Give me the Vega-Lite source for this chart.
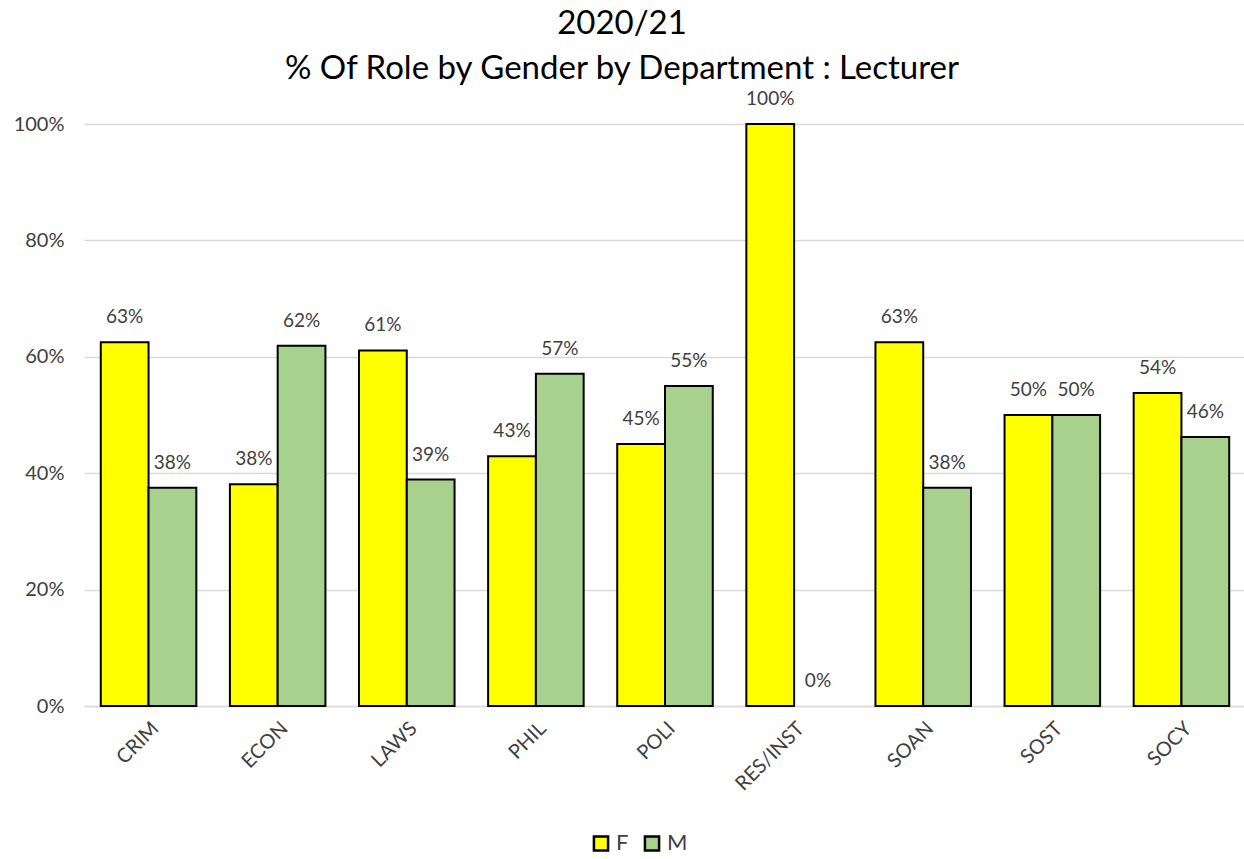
{
  "$schema": "https://vega.github.io/schema/vega-lite/v6.json",
  "width": 1162,
  "height": 582,
  "autosize": {"type": "none"},
  "padding": {"left": 84, "top": 124, "right": 0, "bottom": 153},
  "background": "white",
  "title": {
    "text": ["2020/21", "%  Of Role by Gender by Department : Lecturer"],
    "fontSize": 33,
    "font": "Lato",
    "fontWeight": "normal",
    "color": "#000000",
    "lineHeight": 45,
    "anchor": "middle",
    "dx": -43,
    "offset": 4
  },
  "config": {
    "font": "Lato",
    "view": {"stroke": null}
  },
  "data": {
    "values": [
      {"dept": "CRIM", "gender": "F", "pct": 0.625},
      {"dept": "CRIM", "gender": "M", "pct": 0.375},
      {"dept": "ECON", "gender": "F", "pct": 0.381},
      {"dept": "ECON", "gender": "M", "pct": 0.619},
      {"dept": "LAWS", "gender": "F", "pct": 0.611},
      {"dept": "LAWS", "gender": "M", "pct": 0.389},
      {"dept": "PHIL", "gender": "F", "pct": 0.429},
      {"dept": "PHIL", "gender": "M", "pct": 0.571},
      {"dept": "POLI", "gender": "F", "pct": 0.45},
      {"dept": "POLI", "gender": "M", "pct": 0.55},
      {"dept": "RES/INST", "gender": "F", "pct": 1.0},
      {"dept": "RES/INST", "gender": "M", "pct": 0.0},
      {"dept": "SOAN", "gender": "F", "pct": 0.625},
      {"dept": "SOAN", "gender": "M", "pct": 0.375},
      {"dept": "SOST", "gender": "F", "pct": 0.5},
      {"dept": "SOST", "gender": "M", "pct": 0.5},
      {"dept": "SOCY", "gender": "F", "pct": 0.538},
      {"dept": "SOCY", "gender": "M", "pct": 0.462}
    ]
  },
  "encoding": {
    "x": {
      "field": "dept",
      "type": "nominal",
      "sort": null,
      "scale": {"paddingInner": 0.26, "paddingOuter": 0.13},
      "axis": {
        "title": null,
        "labelAngle": -45,
        "labelFontSize": 20,
        "labelColor": "#404040",
        "labelPadding": 12,
        "ticks": false,
        "domainColor": "#d9d9d9",
        "domainWidth": 1.5
      }
    },
    "xOffset": {"field": "gender", "type": "nominal"},
    "y": {
      "field": "pct",
      "type": "quantitative",
      "scale": {"domain": [0, 1]},
      "axis": {
        "title": null,
        "format": ".0%",
        "values": [0, 0.2, 0.4, 0.6, 0.8, 1.0],
        "labelFontSize": 20,
        "labelColor": "#404040",
        "labelPadding": 20,
        "ticks": false,
        "domain": false,
        "gridColor": "#d9d9d9",
        "gridWidth": 1.5
      }
    }
  },
  "layer": [
    {
      "mark": {"type": "bar", "stroke": "#000000"},
      "encoding": {
        "strokeWidth": {"condition": {"test": "datum.pct == 0", "value": 0}, "value": 2},
        "color": {
          "field": "gender",
          "type": "nominal",
          "scale": {"domain": ["F", "M"], "range": ["#FFFF00", "#A9D18E"]},
          "legend": {
            "title": null,
            "orient": "none",
            "legendX": 506,
            "legendY": 708,
            "direction": "horizontal",
            "symbolType": "square",
            "symbolSize": 200,
            "symbolStrokeColor": "#000000",
            "symbolStrokeWidth": 2.5,
            "labelFontSize": 22,
            "labelColor": "#404040",
            "columnPadding": 10,
            "labelOffset": 4
          }
        }
      }
    },
    {
      "mark": {"type": "text", "fontSize": 19, "color": "#404040", "baseline": "middle", "dy": -25},
      "encoding": {
        "text": {"field": "pct", "type": "quantitative", "format": ".0%"}
      }
    }
  ]
}
